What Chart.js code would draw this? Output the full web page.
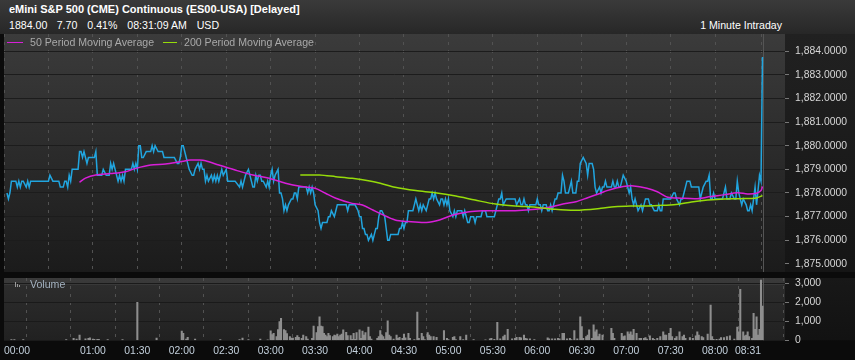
<!DOCTYPE html>
<html>
<head>
<meta charset="utf-8">
<script src="https://cdn.jsdelivr.net/npm/chart.js@4.4.1/dist/chart.umd.min.js"></script>
<style>
  html, body { margin:0; padding:0; background:#0b0b0b; }
  #wrap { position:relative; width:855px; height:360px; overflow:hidden; background:#0b0b0b; font-family:"Liberation Sans", Arial, sans-serif; }
  #hdr { position:absolute; left:0; top:0; width:855px; height:34px; background:linear-gradient(#3a3a3a, #272727); }
  .t { position:absolute; white-space:nowrap; color:#fff; line-height:1; }
  #title { left:9px; top:4px; font-size:11px; font-weight:bold; }
  .q { top:20.3px; font-size:10.6px; }
  #interval { right:73px; top:20px; font-size:10.6px; }
  canvas { position:absolute; left:0; }
  #pc { top:34px; }
  #vc { top:278px; }
  .lg { position:absolute; top:36.7px; font-size:10.6px; color:#a9a9a9; line-height:1; white-space:nowrap; }
  .sw { position:absolute; top:41.5px; height:1px; }
  #volTxt { position:absolute; left:30px; top:279.3px; font-size:10.6px; color:#a4b2c0; line-height:1; }
  .vi { position:absolute; width:1px; background:#9a9a9a; }
</style>
</head>
<body>
<div id="wrap">
  <div id="hdr"></div>
  <div class="t" id="title">eMini S&amp;P 500 (CME) Continuous (ES00-USA) [Delayed]</div>
  <div class="t q" style="left:9px">1884.00</div>
  <div class="t q" style="left:56.7px">7.70</div>
  <div class="t q" style="left:87.3px">0.41%</div>
  <div class="t q" style="left:127.3px">08:31:09 AM</div>
  <div class="t q" style="left:196.7px">USD</div>
  <div class="t" id="interval">1 Minute Intraday</div>
  <canvas id="pc" width="855" height="238"></canvas>
  <canvas id="vc" width="855" height="82"></canvas>
  <div class="sw" style="left:7px;width:16px;background:#d81fd8"></div>
  <div class="lg" style="left:30px">50 Period Moving Average</div>
  <div class="sw" style="left:163px;width:14px;background:#96dc0a"></div>
  <div class="lg" style="left:184px">200 Period Moving Average</div>
  <div class="vi" style="left:15px;top:282px;height:5px"></div>
  <div class="vi" style="left:17px;top:284px;height:3px"></div>
  <div class="vi" style="left:19px;top:285px;height:2px"></div>
  <div id="volTxt">Volume</div>
</div>
<script>
// ---------- DATA ----------
const timeTicks  = [0, 30, 60, 90, 120, 150, 180, 210, 240, 270, 300, 330, 360, 390, 420, 450, 480, 511];
const timeLabels = ['00:00', '', '01:00', '01:30', '02:00', '02:30', '03:00', '03:30', '04:00', '04:30', '05:00', '05:30', '06:00', '06:30', '07:00', '07:30', '08:00', '08:31'];
const priceTicks  = [1875, 1876, 1877, 1878, 1879, 1880, 1881, 1882, 1883, 1884];
const volumeTicks = [0, 1000, 2000, 3000];

const priceMinutes = [2,3,4,5,8,9,10,11,12,13,15,16,17,18,30,31,33,37,38,40,41,42,43,44,45,46,50,51,52,53,54,55,56,57,61,62,63,66,67,69,71,72,73,74,75,77,78,79,80,81,82,86,87,88,89,90,91,92,93,94,96,99,100,101,102,104,107,108,115,117,118,119,120,121,123,124,125,127,128,129,131,132,133,134,135,136,137,138,140,141,142,143,144,145,146,147,148,150,151,156,159,160,161,162,163,165,167,168,169,170,171,172,173,174,175,177,178,179,180,181,182,183,185,186,187,188,189,190,191,192,194,195,196,197,198,199,204,205,206,207,208,209,210,212,213,214,215,218,219,220,221,223,224,225,231,232,233,237,239,240,241,242,243,244,245,246,248,249,250,251,252,253,254,255,257,258,259,260,261,266,267,268,269,270,271,272,273,276,277,278,279,280,281,282,283,285,286,287,288,289,290,291,292,294,295,296,297,298,299,300,301,303,304,305,306,309,310,311,313,314,315,317,318,319,322,323,325,326,331,332,333,334,335,336,337,339,345,346,348,349,350,351,352,353,354,355,359,360,361,362,363,364,366,367,368,369,370,371,372,373,374,376,377,378,379,381,383,384,386,387,388,389,391,393,394,395,397,398,399,400,402,403,404,405,406,407,410,411,412,413,414,415,416,417,418,420,421,422,423,424,425,426,427,428,430,431,432,433,435,436,437,439,441,442,443,444,445,450,452,453,454,456,457,458,459,460,461,463,464,469,470,471,472,474,475,476,477,478,479,480,485,486,487,488,490,491,493,494,495,496,497,498,499,501,502,503,504,505,506,507,508,510,511,512];
const priceValues = [1878.0,1877.75,1878.0,1878.5,1878.5,1878.25,1878.5,1878.25,1878.5,1878.5,1878.25,1878.5,1878.25,1878.5,1878.5,1878.75,1878.5,1878.5,1878.25,1878.25,1878.5,1878.5,1878.25,1878.75,1878.5,1879.0,1879.0,1879.75,1879.75,1879.5,1879.75,1879.5,1879.25,1879.5,1879.5,1879.75,1878.75,1878.75,1879.0,1878.75,1878.75,1879.25,1879.0,1879.25,1879.0,1878.5,1878.75,1878.5,1878.75,1878.5,1879.0,1879.0,1879.25,1879.0,1879.25,1879.0,1880.0,1880.0,1879.5,1879.5,1879.75,1879.75,1880.0,1879.75,1880.0,1879.75,1879.75,1879.5,1879.5,1879.25,1879.25,1879.5,1880.0,1880.0,1879.5,1879.25,1879.0,1878.75,1878.75,1879.0,1879.25,1879.0,1879.25,1879.0,1879.0,1878.5,1878.75,1878.5,1878.75,1878.5,1878.75,1878.5,1878.75,1878.5,1878.75,1879.0,1878.75,1879.0,1878.5,1878.5,1878.25,1878.5,1878.25,1878.5,1878.75,1879.0,1878.5,1878.25,1878.25,1878.75,1878.5,1878.75,1878.75,1878.5,1878.5,1878.25,1878.5,1878.25,1878.75,1879.0,1878.5,1878.75,1879.0,1878.0,1878.0,1877.75,1877.25,1877.5,1877.25,1877.5,1877.75,1877.75,1878.0,1878.0,1877.75,1878.25,1878.25,1878.0,1878.25,1878.0,1878.25,1878.0,1877.5,1877.25,1876.75,1876.5,1876.75,1876.75,1877.0,1877.0,1877.25,1877.0,1877.25,1877.5,1877.5,1877.25,1877.5,1877.5,1877.25,1877.0,1877.0,1876.5,1876.5,1876.25,1876.25,1876.0,1876.25,1876.0,1876.25,1876.5,1876.5,1877.0,1877.25,1877.25,1877.0,1876.5,1876.0,1876.0,1876.25,1876.25,1876.5,1876.5,1876.75,1876.5,1876.75,1876.75,1877.25,1877.25,1877.5,1877.75,1877.5,1877.25,1877.5,1877.25,1877.5,1877.25,1877.5,1877.75,1877.75,1878.0,1877.75,1878.0,1877.75,1877.5,1877.75,1877.75,1877.5,1877.75,1877.5,1877.75,1877.25,1877.0,1877.25,1877.0,1877.25,1877.25,1877.0,1877.25,1876.75,1876.75,1877.0,1877.0,1876.75,1877.0,1877.0,1877.25,1877.25,1877.0,1877.0,1877.25,1877.5,1877.75,1877.75,1878.0,1877.5,1877.75,1877.75,1877.5,1877.75,1877.5,1877.5,1877.75,1877.5,1877.5,1877.25,1877.5,1877.5,1877.75,1877.5,1877.5,1877.25,1877.5,1877.5,1877.25,1877.25,1877.5,1877.25,1877.5,1877.75,1877.75,1878.0,1878.0,1878.75,1878.5,1878.0,1878.0,1878.5,1878.0,1878.0,1878.5,1878.5,1879.25,1879.5,1879.25,1878.75,1879.25,1879.25,1879.0,1878.25,1878.0,1878.25,1878.0,1878.25,1878.25,1878.5,1878.25,1878.25,1878.5,1878.25,1878.25,1878.5,1878.25,1878.25,1878.5,1878.75,1878.5,1878.25,1878.0,1878.25,1877.75,1877.5,1877.75,1877.5,1877.25,1877.5,1877.25,1877.5,1877.75,1877.75,1877.5,1877.5,1877.25,1877.25,1877.5,1877.25,1877.25,1877.75,1877.75,1878.0,1878.0,1877.75,1877.5,1877.75,1877.75,1878.0,1878.25,1878.5,1878.5,1878.25,1878.25,1877.75,1878.0,1878.25,1878.5,1878.5,1878.75,1877.75,1877.75,1878.0,1877.75,1877.75,1878.0,1878.25,1877.75,1877.75,1878.0,1877.75,1877.75,1878.5,1878.0,1877.75,1877.5,1877.75,1877.5,1877.25,1877.25,1877.5,1877.25,1877.75,1878.25,1877.5,1878.75,1878.5,1883.75];

const ma50Minutes = [51,55,62,72,82,89,99,109,119,126,132,136,145,156,168,179,190,201,210,217,224,235,242,249,254,264,273,285,294,303,314,323,332,345,359,370,379,386,394,403,407,418,425,434,441,448,457,468,477,486,495,502,508,511,512];
const ma50Values  = [1878.45,1878.63,1878.76,1878.82,1878.9,1879.04,1879.18,1879.22,1879.32,1879.39,1879.39,1879.36,1879.18,1878.97,1878.76,1878.62,1878.41,1878.27,1878.2,1877.99,1877.78,1877.56,1877.49,1877.28,1877.13,1876.86,1876.79,1876.75,1876.86,1877.07,1877.21,1877.25,1877.25,1877.25,1877.31,1877.42,1877.56,1877.63,1877.8,1878.0,1878.1,1878.27,1878.3,1878.2,1878.05,1877.82,1877.78,1877.76,1877.85,1877.92,1878.01,1877.96,1877.99,1878.1,1878.27];

const ma200Minutes = [200,213,224,235,246,254,264,278,291,305,318,332,345,359,372,386,403,412,423,434,445,455,464,475,486,497,508,512];
const ma200Values  = [1878.76,1878.76,1878.69,1878.62,1878.52,1878.41,1878.24,1878.1,1878.01,1877.87,1877.7,1877.53,1877.45,1877.4,1877.31,1877.27,1877.35,1877.42,1877.45,1877.45,1877.48,1877.52,1877.62,1877.7,1877.75,1877.76,1877.79,1877.89];

const volumeMinutes = [5,7,13,42,47,49,51,55,57,58,60,61,63,64,70,80,90,103,120,121,123,124,129,146,159,161,165,173,178,180,181,182,184,185,186,187,189,190,191,193,194,195,197,198,199,201,202,204,205,208,209,211,212,213,214,215,216,217,218,219,220,222,223,224,225,226,227,228,229,231,232,234,235,236,237,238,240,241,242,243,244,246,247,248,252,253,254,255,256,257,258,259,260,261,263,265,266,267,269,270,271,273,274,277,279,280,282,283,284,286,287,288,290,292,297,299,300,303,304,305,308,310,312,317,325,328,329,331,333,335,337,338,340,343,345,346,348,349,351,352,353,355,358,367,368,370,372,374,375,377,378,380,382,383,385,387,389,390,391,393,394,395,397,398,399,400,401,402,404,410,411,412,417,418,419,421,422,423,424,425,427,429,430,432,433,434,436,438,439,441,443,445,446,447,449,450,451,453,454,456,458,459,460,463,465,467,468,469,471,472,475,477,478,479,481,483,484,486,488,490,493,495,496,497,499,500,501,502,503,505,506,507,508,509,510,511,512];
const volumeValues  = [40,40,40,40,100,70,280,80,100,130,70,50,50,50,40,40,2000,120,490,370,70,150,70,40,40,120,40,70,30,500,300,370,200,570,980,1160,560,510,350,200,120,120,150,250,150,100,280,200,70,100,750,400,720,1240,750,720,370,280,200,370,250,200,280,250,330,200,280,330,550,420,250,250,50,370,50,400,550,100,480,280,400,690,200,70,100,200,510,280,200,70,400,1020,280,200,70,280,100,150,100,330,130,370,100,40,1490,100,370,200,40,400,280,200,200,150,510,100,40,150,200,40,200,40,280,40,30,80,100,50,950,80,200,280,580,80,100,150,150,130,280,100,80,80,40,130,80,80,80,100,80,370,370,80,100,40,510,80,1240,720,100,200,280,550,100,820,450,550,200,330,280,630,370,100,370,190,240,450,330,450,280,580,370,100,100,100,140,70,230,100,50,100,190,450,280,280,370,630,190,100,190,450,190,280,100,140,100,230,450,280,190,140,330,1860,190,50,50,70,140,140,190,240,70,690,450,2680,450,240,280,450,190,100,1420,580,1240,280,580,3170,1800];

// ---------- HELPERS ----------
const pts = (xs, ys) => xs.map((x, i) => ({ x: x, y: ys[i] }));
const X_MIN = 0, X_MAX = 527.2;
const lastMinute = priceMinutes[priceMinutes.length - 1];
const FONT = '"Liberation Sans", Arial, sans-serif';
const noPad = s => { s.paddingTop = 0; s.paddingBottom = 0; s.paddingLeft = 0; s.paddingRight = 0; };

const panelPlugin = {
  id: 'panel',
  beforeDraw(chart, args, o) {
    const { ctx, chartArea: a, width } = chart;
    ctx.save();
    let g = ctx.createLinearGradient(0, a.top, 0, a.bottom);
    g.addColorStop(0, o.axisTop); g.addColorStop(1, o.axisBottom);
    ctx.fillStyle = g;
    ctx.fillRect(a.right, a.top, width - a.right, a.bottom - a.top);
    g = ctx.createLinearGradient(0, a.top, 0, a.bottom);
    g.addColorStop(0, o.plotTop); g.addColorStop(1, o.plotBottom);
    ctx.fillStyle = g;
    ctx.fillRect(a.left, a.top, a.right - a.left, a.bottom - a.top);
    if (o.band) {
      ctx.fillStyle = o.band;
      ctx.fillRect(a.left, a.top, a.right - a.left, o.bandHeight);
    }
    ctx.restore();
  },
  beforeDatasetsDraw(chart, args, o) {
    const { ctx, chartArea: a, scales } = chart;
    const x = Math.round(scales.x.getPixelForValue(lastMinute + 0.6)) + 0.5;
    ctx.save();
    ctx.strokeStyle = o.markerColor;
    ctx.lineWidth = 1;
    ctx.beginPath(); ctx.moveTo(x, a.top); ctx.lineTo(x, a.bottom); ctx.stroke();
    ctx.restore();
  }
};

const xScaleBase = {
  type: 'linear', min: X_MIN, max: X_MAX,
  afterBuildTicks: s => { s.ticks = timeTicks.map(v => ({ value: v })); },
  grid: { color: '#525252', lineWidth: 1, drawTicks: false },
  border: { display: false, dash: [3, 5] }
};

new Chart(document.getElementById('pc'), {
  type: 'line',
  data: {
    datasets: [
      { label: 'Price', data: pts(priceMinutes, priceValues), borderColor: '#21a5df', borderWidth: 1.5, pointRadius: 0, tension: 0, order: 2 },
      { label: '50 Period Moving Average', data: pts(ma50Minutes, ma50Values), borderColor: '#d81fd8', borderWidth: 1.5, pointRadius: 0, tension: 0.3, order: 1 },
      { label: '200 Period Moving Average', data: pts(ma200Minutes, ma200Values), borderColor: '#96dc0a', borderWidth: 1.5, pointRadius: 0, tension: 0.3, order: 0 }
    ]
  },
  options: {
    responsive: false, animation: false, events: [],
    layout: { padding: { left: 4, right: 0, top: 0, bottom: 0 } },
    plugins: {
      legend: { display: false }, tooltip: { enabled: false },
      panel: { plotTop: '#3b3b3b', plotBottom: '#1b1b1b', axisTop: '#212121', axisBottom: '#151515', markerColor: '#555555' }
    },
    scales: {
      x: Object.assign({}, xScaleBase, { ticks: { display: false }, afterFit: s => { s.height = 0; noPad(s); } }),
      y: {
        position: 'right', min: 1874.66, max: 1884.72,
        afterBuildTicks: s => { s.ticks = priceTicks.map(v => ({ value: v })); },
        ticks: {
          color: '#d6d6d6', padding: 6, font: { family: FONT, size: 10.4 },
          callback: v => v.toLocaleString('en-US', { minimumFractionDigits: 4, maximumFractionDigits: 4 })
        },
        grid: { color: '#1c1c1c', tickColor: '#777777', tickLength: 4 },
        border: { display: false },
        afterFit: s => { s.width = 70; noPad(s); }
      }
    }
  },
  plugins: [panelPlugin]
});

new Chart(document.getElementById('vc'), {
  type: 'bar',
  data: {
    datasets: [
      { label: 'Volume', data: pts(volumeMinutes, volumeValues), backgroundColor: '#8e8e8e', barThickness: 1.4, borderWidth: 0 }
    ]
  },
  options: {
    responsive: false, animation: false, events: [],
    layout: { padding: { left: 4, right: 0, top: 0, bottom: 0 } },
    plugins: {
      legend: { display: false }, tooltip: { enabled: false },
      panel: { plotTop: '#2e2e2e', plotBottom: '#212121', axisTop: '#181818', axisBottom: '#121212', markerColor: '#555555', band: 'rgba(255,255,255,0.06)', bandHeight: 7 }
    },
    scales: {
      x: Object.assign({}, xScaleBase, {
        offset: false,
        ticks: {
          autoSkip: false, maxRotation: 0, minRotation: 0, align: 'inner', padding: 5,
          color: '#c3d0dc', font: { family: FONT, size: 10.4 },
          callback: (v, i) => timeLabels[i]
        },
        afterFit: s => { s.height = 19.7; noPad(s); }
      }),
      y: {
        position: 'right', min: 0, max: 3280,
        afterBuildTicks: s => { s.ticks = volumeTicks.map(v => ({ value: v })); },
        ticks: {
          color: '#d6d6d6', padding: 6, font: { family: FONT, size: 10.4 },
          callback: v => v.toLocaleString('en-US')
        },
        grid: { color: '#1a1a1a', tickColor: '#777777', tickLength: 4 },
        border: { display: false },
        afterFit: s => { s.width = 70; noPad(s); }
      }
    }
  },
  plugins: [panelPlugin]
});
</script>
</body>
</html>
